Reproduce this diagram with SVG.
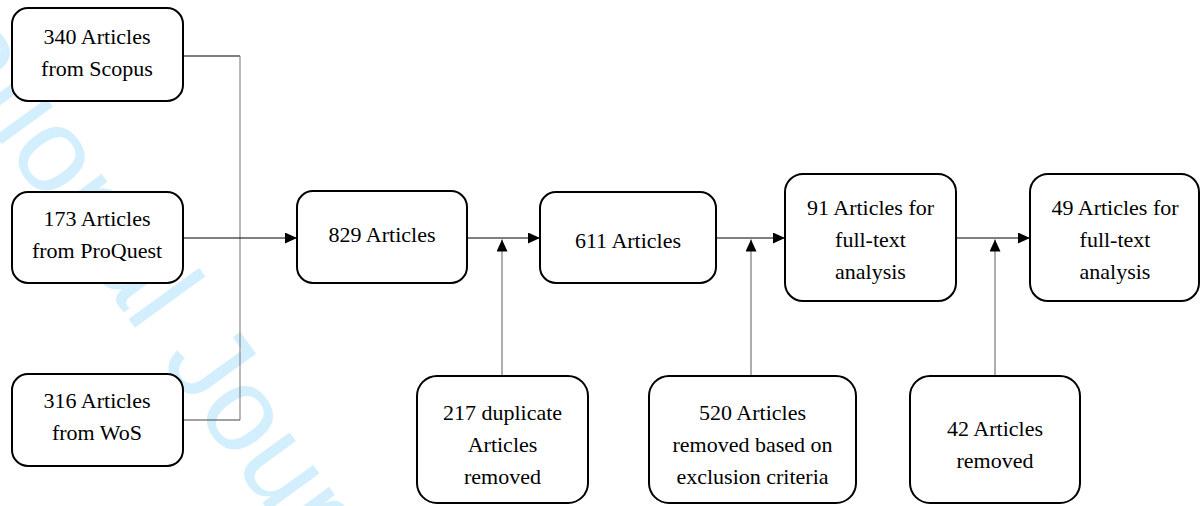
<svg xmlns="http://www.w3.org/2000/svg" width="1200" height="506" viewBox="0 0 1200 506">
<defs>
<marker id="ah" markerUnits="userSpaceOnUse" markerWidth="13" markerHeight="12" refX="12" refY="5.5" orient="auto">
<path d="M0,0 L12,5.5 L0,11 z" fill="#000"/>
</marker>
</defs>
<rect width="1200" height="506" fill="#fff"/>
<g id="watermark" transform="translate(6,150) rotate(54)">
<text x="-433" y="0" font-family="Liberation Sans" font-size="120" fill="#d3eefc">International Journal</text>
</g>
<g id="connectors" fill="none" stroke-width="1.2">
<path stroke="#000" d="M183,56 H240"/>
<path stroke="#888" d="M240,56 V420"/>
<path stroke="#444" d="M183,420 H240"/>
<path stroke="#000" d="M183,238 H297" marker-end="url(#ah)"/>
<path stroke="#000" d="M467,238 H540" marker-end="url(#ah)"/>
<path stroke="#000" d="M716,238 H785" marker-end="url(#ah)"/>
<path stroke="#000" d="M956,238 H1030" marker-end="url(#ah)"/>
<path stroke="#777" d="M502,376 V239.5" marker-end="url(#ah)"/>
<path stroke="#777" d="M751,376 V239.5" marker-end="url(#ah)"/>
<path stroke="#777" d="M995,376 V239.5" marker-end="url(#ah)"/>
</g>
<g id="nodes" fill="#fff" stroke="#000" stroke-width="2">
<g id="scopus">
<rect x="12" y="8" width="171" height="93" rx="16"/>
<text x="97" y="43.5" font-family="Liberation Serif" font-size="22" text-anchor="middle" fill="#000" stroke="none">340 Articles</text>
<text x="97" y="75.5" font-family="Liberation Serif" font-size="22" text-anchor="middle" fill="#000" stroke="none">from Scopus</text>
</g>
<g id="proquest">
<rect x="12" y="192" width="171" height="91" rx="16"/>
<text x="97" y="226" font-family="Liberation Serif" font-size="22" text-anchor="middle" fill="#000" stroke="none">173 Articles</text>
<text x="97" y="257.5" font-family="Liberation Serif" font-size="22" text-anchor="middle" fill="#000" stroke="none">from ProQuest</text>
</g>
<g id="wos">
<rect x="12" y="374" width="171" height="92" rx="16"/>
<text x="97" y="407.5" font-family="Liberation Serif" font-size="22" text-anchor="middle" fill="#000" stroke="none">316 Articles</text>
<text x="97" y="439.5" font-family="Liberation Serif" font-size="22" text-anchor="middle" fill="#000" stroke="none">from WoS</text>
</g>
<g id="a829">
<rect x="297" y="191" width="170" height="92" rx="16"/>
<text x="382" y="242" font-family="Liberation Serif" font-size="22" text-anchor="middle" fill="#000" stroke="none">829 Articles</text>
</g>
<g id="a611">
<rect x="540" y="192" width="176" height="91" rx="16"/>
<text x="628" y="248" font-family="Liberation Serif" font-size="22" text-anchor="middle" fill="#000" stroke="none">611 Articles</text>
</g>
<g id="a91">
<rect x="785" y="174" width="171" height="127" rx="18"/>
<text x="870.5" y="215" font-family="Liberation Serif" font-size="22" text-anchor="middle" fill="#000" stroke="none">91 Articles for</text>
<text x="870.5" y="247" font-family="Liberation Serif" font-size="22" text-anchor="middle" fill="#000" stroke="none">full-text</text>
<text x="870.5" y="279" font-family="Liberation Serif" font-size="22" text-anchor="middle" fill="#000" stroke="none">analysis</text>
</g>
<g id="a49">
<rect x="1030" y="174" width="169" height="127" rx="18"/>
<text x="1115" y="215" font-family="Liberation Serif" font-size="22" text-anchor="middle" fill="#000" stroke="none">49 Articles for</text>
<text x="1115" y="247" font-family="Liberation Serif" font-size="22" text-anchor="middle" fill="#000" stroke="none">full-text</text>
<text x="1115" y="279" font-family="Liberation Serif" font-size="22" text-anchor="middle" fill="#000" stroke="none">analysis</text>
</g>
<g id="dup217">
<rect x="417" y="376" width="171" height="127" rx="20"/>
<text x="502.5" y="419.5" font-family="Liberation Serif" font-size="22" text-anchor="middle" fill="#000" stroke="none">217 duplicate</text>
<text x="502.5" y="452" font-family="Liberation Serif" font-size="22" text-anchor="middle" fill="#000" stroke="none">Articles</text>
<text x="502.5" y="484" font-family="Liberation Serif" font-size="22" text-anchor="middle" fill="#000" stroke="none">removed</text>
</g>
<g id="rem520">
<rect x="649" y="376" width="207" height="127" rx="20"/>
<text x="752.5" y="419.5" font-family="Liberation Serif" font-size="22" text-anchor="middle" fill="#000" stroke="none">520 Articles</text>
<text x="752.5" y="452" font-family="Liberation Serif" font-size="22" text-anchor="middle" fill="#000" stroke="none">removed based on</text>
<text x="752.5" y="484" font-family="Liberation Serif" font-size="22" text-anchor="middle" fill="#000" stroke="none">exclusion criteria</text>
</g>
<g id="rem42">
<rect x="910" y="376" width="170" height="127" rx="20"/>
<text x="995" y="435.5" font-family="Liberation Serif" font-size="22" text-anchor="middle" fill="#000" stroke="none">42 Articles</text>
<text x="995" y="468" font-family="Liberation Serif" font-size="22" text-anchor="middle" fill="#000" stroke="none">removed</text>
</g>
</g>
</svg>
